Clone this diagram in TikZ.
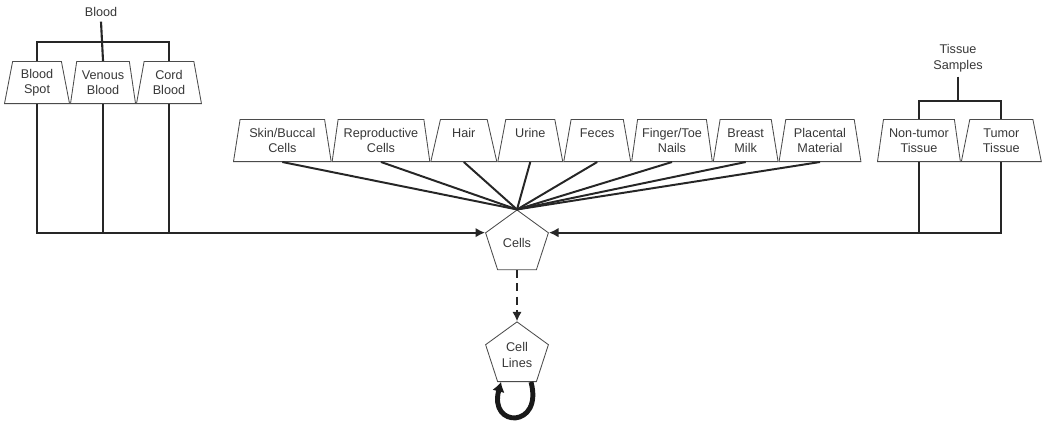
\documentclass[tikz,border=0pt]{standalone}
\usepackage{fontspec}
\setmainfont{Liberation Sans}
\usepackage{tikz}
\usetikzlibrary{
    arrows.meta,
    positioning,
    shapes.geometric
}
\definecolor{txtgrey}{RGB}{55,55,55}
\definecolor{edgegrey}{RGB}{75,75,75}
\tikzset{
    sample/.style={
        draw=edgegrey,
        trapezium,
        trapezium left angle=79,
        trapezium right angle=79,
        trapezium stretches=true,
        minimum height=10.5mm,
        line width=0.6pt,
        align=center,
        inner sep=1pt,
        text=txtgrey,
        font=\fontsize{9}{11}\selectfont
    },
    lab/.style={
        font=\fontsize{9}{11}\selectfont,
        align=center,
        text=txtgrey
    },
    conn/.style={
        line width=1.5pt,
        draw=black!85
    },
    arr/.style={
        conn,
        -{Latex[length=2.4mm,width=2.4mm]}
    }
}

\begin{document}
\begin{tikzpicture}[
    x=0.025cm, y=-0.025cm,
    hub/.style={
        draw=edgegrey,
        regular polygon,
        regular polygon sides=5,
        minimum size=16.5mm,
        line width=0.6pt,
        inner sep=0pt,
        align=center,
        text=txtgrey,
        font=\fontsize{9}{11}\selectfont
    },
    fan/.style={
        line width=1.4pt,
        draw=black!85
    }
]
\useasboundingbox (0,0) rectangle (1050,424);

\node[lab] (blood) at (101,12) {Blood};
\node[sample, minimum width=16.25mm, anchor=bottom left corner] (bspot) at (4,104) {Blood\\ Spot};
\node[sample, minimum width=16.25mm, anchor=bottom left corner] (venous) at (bspot.bottom right corner) {Venous\\ Blood};
\node[sample, minimum width=16.25mm, anchor=bottom left corner] (cord) at (venous.bottom right corner) {Cord\\ Blood};

\node[sample, minimum width=24.5mm, anchor=bottom left corner] (skin) at (233,162) {Skin/Buccal\\ Cells};
\node[sample, minimum width=24.5mm, anchor=bottom left corner] (repro) at (skin.bottom right corner) {Reproductive\\ Cells};
\node[sample, minimum width=16.5mm, anchor=bottom left corner] (hair) at (repro.bottom right corner) {Hair\\ \mbox{}};
\node[sample, minimum width=16.25mm, anchor=bottom left corner] (urine) at (hair.bottom right corner) {Urine\\ \mbox{}};
\node[sample, minimum width=16.75mm, anchor=bottom left corner] (feces) at (urine.bottom right corner) {Feces\\ \mbox{}};
\node[sample, minimum width=20.25mm, anchor=bottom left corner] (finger) at (feces.bottom right corner) {Finger/Toe\\ Nails};
\node[sample, minimum width=16.25mm, anchor=bottom left corner] (breast) at (finger.bottom right corner) {Breast\\ Milk};
\node[sample, minimum width=20.5mm, anchor=bottom left corner] (placenta) at (breast.bottom right corner) {Placental\\ Material};

\node[lab] (tissue) at (958,58) {Tissue\\ Samples};
\node[sample, minimum width=20.75mm, anchor=bottom left corner] (nontumor) at (877,162) {Non-tumor\\ Tissue};
\node[sample, minimum width=20mm, anchor=bottom left corner] (tumor) at (nontumor.bottom right corner) {Tumor\\ Tissue};

\node[hub] (cells) at (517,243) {Cells};
\node[hub, below=12.8mm of cells] (lines) {Cell\\ Lines};

\draw[conn] (bspot.north) -- ++(0,-19) -| (cord.north);
\draw[conn] (blood.south) -- (venous.north);
\draw[conn] (nontumor.north) -- ++(0,-18) coordinate (tjoin) -| (tumor.north);
\draw[conn] (tissue.south) -- (tissue.south |- tjoin);

\draw[arr] (bspot.south) |- (cells.corner 2);
\draw[conn] (venous.south) -- (venous.south |- cells.corner 2);
\draw[conn] (cord.south) -- (cord.south |- cells.corner 2);

\draw[arr] (tumor.south) |- (cells.corner 5);
\draw[conn] (nontumor.south) -- (nontumor.south |- cells.corner 5);

\foreach \n in {skin,repro,hair,urine,feces,finger,breast,placenta}
    \draw[fan] (\n.south) -- (cells.corner 1);

\draw[arr, dash pattern=on 2mm off 1.3mm] (cells.south) -- (lines.north);
\draw[line width=3.5pt, draw=black!90, -{Latex[length=2.4mm,width=3.2mm]}] ([xshift=3.5mm]lines.south) .. controls +(-75:12mm) and +(-105:12mm) .. ([xshift=-4mm]lines.south);

\end{tikzpicture}
\end{document}
